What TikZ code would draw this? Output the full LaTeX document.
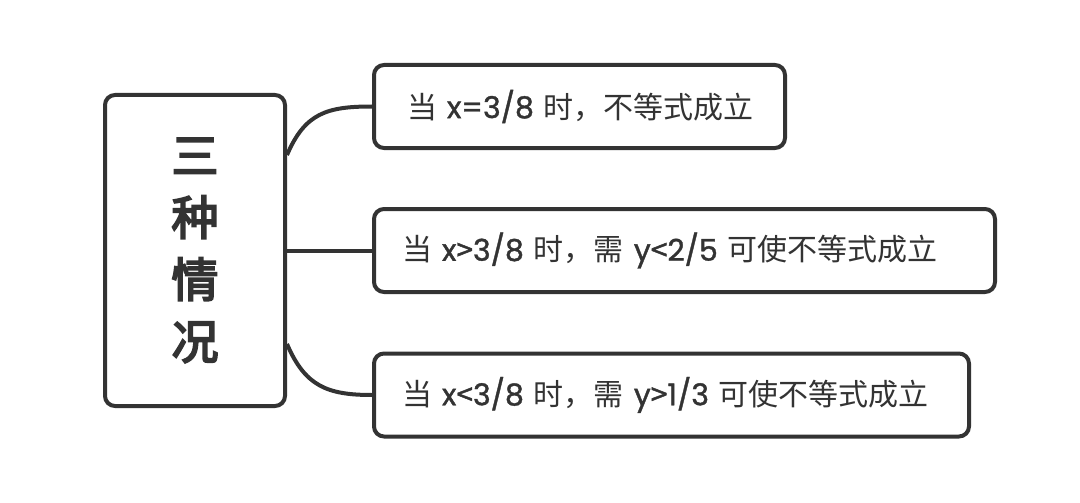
\documentclass[tikz,border=0pt]{standalone}
\usepackage{fontspec}
\setmainfont[FakeBold=1.2]{Poppins}
\newfontfamily\cjk{Noto Sans CJK SC}
\newfontfamily\sym[FakeBold=1.5]{Noto Sans CJK SC}
\newfontfamily\cjkb[FakeBold=4]{Noto Sans CJK SC}
\definecolor{ink}{HTML}{333333}
\newcommand{\zh}[1]{{\cjk #1}}
\newcommand{\lt}{{\sym <}}
\newcommand{\gt}{{\sym >}}
\begin{document}
\begin{tikzpicture}[x=1pt,y=-1pt,
  box/.style={draw=ink, line width=4pt, rounded corners=10pt, fill=white, text=ink,
    font=\fontsize{30}{34}\selectfont, align=left, inner ysep=0pt, minimum height=83pt},
  link/.style={draw=ink, line width=4pt}]
\useasboundingbox (0,0) rectangle (1080,503);
\node[draw=ink, line width=4pt, rounded corners=10pt, fill=white, text=ink,
  minimum width=180pt, minimum height=311pt, align=center,
  font=\fontsize{47}{62}\selectfont\cjkb] (root) at (195,250.5) {三\\种\\情\\况};
\node[box, anchor=west, text width=371pt, inner xsep=20pt] (b1) at (372,106.5)
  {\hspace*{13pt}\zh{当} x=3/8 \zh{时，不等式成立}};
\node[box, anchor=west, text width=621pt-2*28pt, inner xsep=28pt] (b2) at (372,250.5)
  {\zh{当} x\gt3/8 \zh{时，需} y\lt2/5 \zh{可使不等式成立}};
\node[box, anchor=west, text width=595pt-2*28pt, inner xsep=28pt] (b3) at (372,395)
  {\zh{当} x\lt3/8 \zh{时，需} y\gt1/3 \zh{可使不等式成立}};
\draw[link] ([yshift=-62pt]root.north east) .. controls +(18,-42) and +(-45,0) .. (b1.west);
\draw[link] (root.east) -- (b2.west);
\draw[link] ([yshift=64pt]root.south east) .. controls +(18,42) and +(-45,0) .. (b3.west);
\end{tikzpicture}
\end{document}
